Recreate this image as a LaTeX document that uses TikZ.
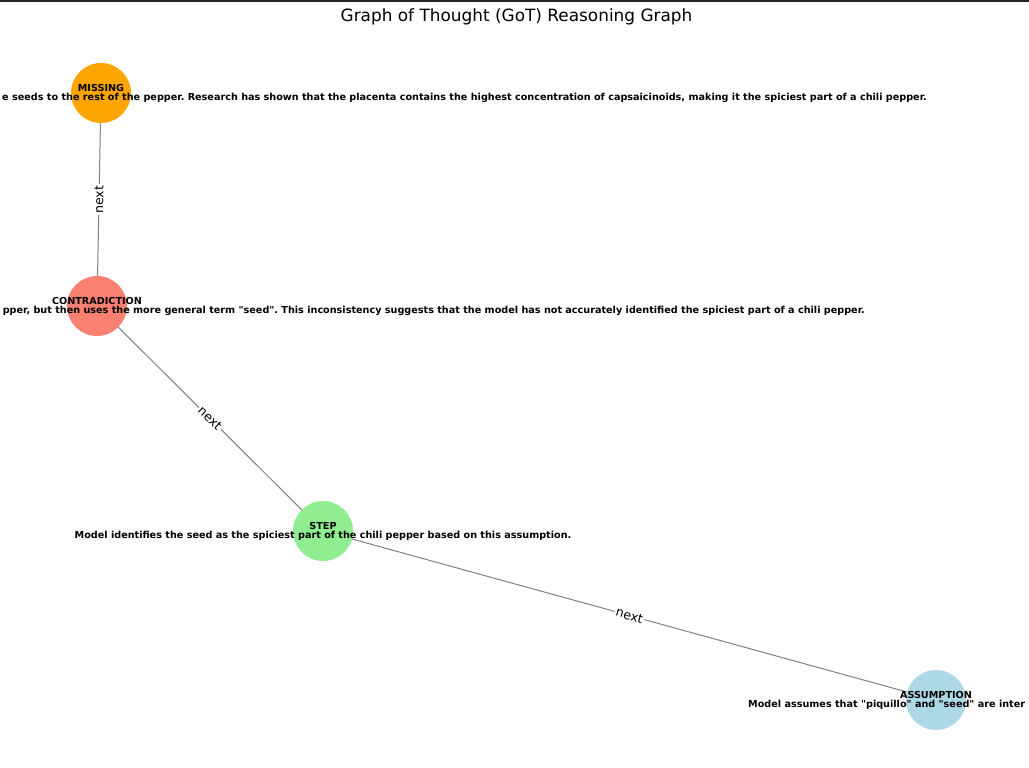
\documentclass[tikz,border=0pt]{standalone}
\usepackage{fontspec}
\setmainfont{DejaVu Sans}
\usetikzlibrary{positioning,backgrounds}
\definecolor{missingc}{HTML}{FFA500}
\definecolor{contrac}{HTML}{FA8072}
\definecolor{stepc}{HTML}{90EE90}
\definecolor{assumc}{HTML}{ADD8E6}
\definecolor{edgec}{HTML}{808080}
\definecolor{framec}{HTML}{222222}
\newcommand{\dq}{\textquotedbl}
\tikzset{
  thought/.style={circle,minimum size=60pt,inner sep=0pt,draw=none},
  kind/.style={font=\fontsize{9.65}{10}\selectfont\bfseries,inner sep=0pt},
  detail/.style={font=\fontsize{9.65}{10}\selectfont\bfseries,inner sep=0pt},
  link/.style={draw=edgec,line width=1pt},
  linklabel/.style={font=\fontsize{12.5}{13}\selectfont,fill=white,inner sep=1.5pt,sloped,pos=.5},
  topline/.style={draw=framec,line width=1.6pt}}
\begin{document}
\frenchspacing
\begin{tikzpicture}[x=1pt,y=-1pt]
\useasboundingbox (0,0) rectangle (1029,768);
\clip (0,0) rectangle (1029,768);
\draw[topline] (0,0.8) -- (1029,0.8);
\node[font=\fontsize{16.9}{18}\selectfont] (title) at (516.5,17) {Graph of Thought (GoT) Reasoning Graph};
% thoughts
\node[thought,fill=missingc] (missing) at (101,93) {};
\node[thought,fill=contrac] (contradiction) at (97,306) {};
\node[thought,fill=stepc] (stepn) at (323,531) {};
\node[thought,fill=assumc] (assumption) at (936,700) {};
% links
\begin{scope}[on background layer]
\foreach \a/\b in {missing/contradiction,contradiction/stepn,stepn/assumption}
  \path[link] (\a.center) -- node[linklabel] (\a-\b) {next} (\b.center);
\end{scope}
% labels
\node[kind,yshift=5.2pt] (missing-k) at (missing.center) {MISSING};
\node[detail,anchor=east] (missing-d) at (927,98) {e seeds to the rest of the pepper. Research has shown that the placenta contains the highest concentration of capsaicinoids, making it the spiciest part of a chili pepper.};
\node[kind,yshift=5.2pt] (contradiction-k) at (contradiction.center) {CONTRADICTION};
\node[detail,anchor=east] (contradiction-d) at (865,311) {pper, but then uses the more general term \dq seed\dq. This inconsistency suggests that the model has not accurately identified the spiciest part of a chili pepper.};
\node[kind,yshift=5.2pt] (stepn-k) at (stepn.center) {STEP};
\node[detail,yshift=-5pt] (stepn-d) at (stepn.center) {Model identifies the seed as the spiciest part of the chili pepper based on this assumption.};
\node[kind,yshift=5.2pt] (assumption-k) at (assumption.center) {ASSUMPTION};
\node[detail,anchor=west] (assumption-d) at (748,705) {Model assumes that \dq piquillo\dq{} and \dq seed\dq{} are inter};
\end{tikzpicture}
\end{document}
